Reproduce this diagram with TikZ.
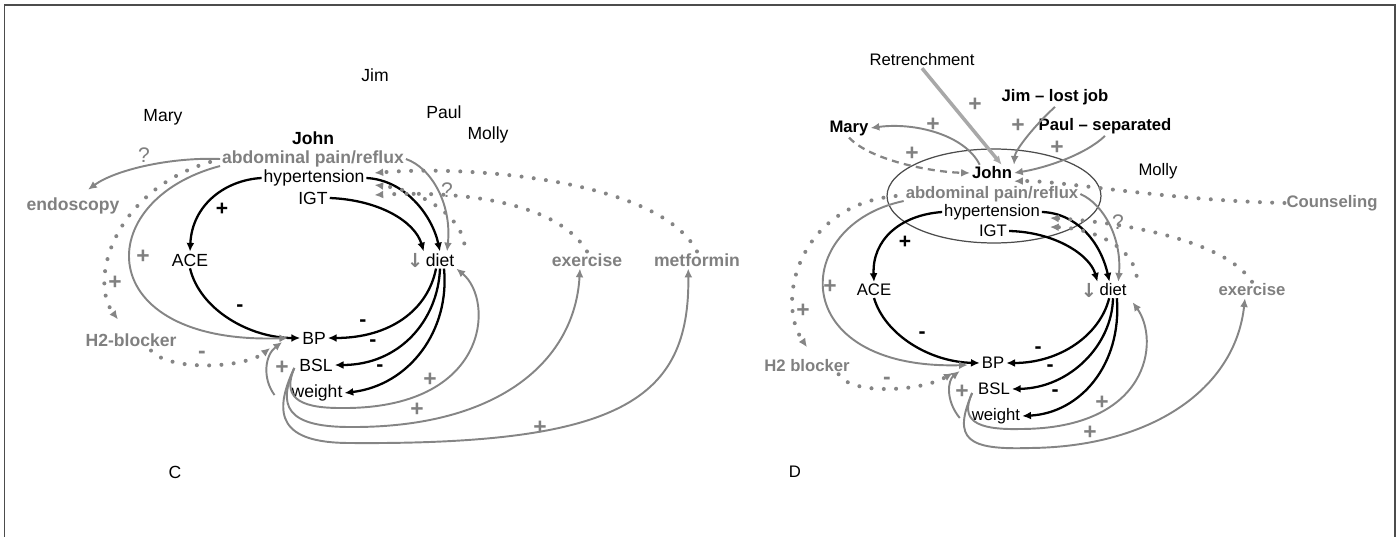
\documentclass[tikz,border=0pt]{standalone}
\usepackage{fontspec}
\setmainfont{Liberation Sans}
\newfontfamily\symfont{DejaVu Sans}
\usetikzlibrary{arrows.meta,shapes.geometric,positioning}
\definecolor{gtxt}{gray}{0.5}
\definecolor{gline}{gray}{0.52}
\definecolor{rline}{gray}{0.66}
\definecolor{frm}{gray}{0.3}
\newcommand{\fsz}{\fontsize{10}{12}\selectfont}
\tikzset{
	txt/.style   = {inner sep=1pt, font=\fsz},
	bold/.style  = {inner sep=1pt, font=\fsz\bfseries},
	gtext/.style = {inner sep=1pt, text=gtxt, font=\fsz\bfseries},
	darr/.style  = {inner sep=0pt, text=gtxt, font=\symfont\fontsize{11}{11}\selectfont\bfseries},
	sgn/.style   = {inner sep=0pt, text=gtxt, font=\fontsize{13}{13}\selectfont\bfseries},
	qsgn/.style  = {inner sep=0pt, text=gtxt, font=\fontsize{12}{12}\selectfont},
	bsgn/.style  = {inner sep=0pt, font=\fontsize{12}{12}\selectfont\bfseries},
	ring/.style  = {ellipse, draw=frm, line width=0.7pt, inner sep=0pt,
		minimum width=4.28cm, minimum height=1.88cm},
	blk/.style   = {->, line width=1.3pt, black},
	gry/.style   = {->, line width=1.1pt, gline},
	retr/.style  = {->, line width=2pt, rline},
	dsh/.style   = {->, line width=1.3pt, gline, dash pattern=on 4pt off 3pt},
	dots/.style  = {->, line width=2.3pt, gline, line cap=round,
		dash pattern=on 0pt off 7pt}
}

\begin{document}
\begin{tikzpicture}[x=0.02cm, y=-0.02cm, >={Latex[length=5pt,width=4.5pt]}]
\useasboundingbox (0,0) rectangle (1399,537);
\draw[frm, line width=0.9pt] (4.5,537) -- (4.5,5) -- (1395,5) -- (1395,537);

% panel C
\node[txt] (jimC) at (375,75) {Jim};
\node[txt] (maryC) at (163,117) {Mary};
\node[txt] (paulC) at (444,112) {Paul};
\node[txt] (mollyC) at (488,135) {Molly};
\node[bold] (johnC) at (313,138) {John};
\node[gtext] (abdC) at (313,159) {abdominal pain/reflux};
\node[txt] (hypC) at (314,178) {hypertension};
\node[txt] (igtC) at (313,198) {IGT};
\node[gtext] (endoC) at (73,206) {endoscopy};
\node[txt] (aceC) at (190,260) {ACE};
\node[txt] (dietC) at (440,260) {diet};
\node[darr, left=0pt of dietC] (downC) {↓};
\node[gtext] (exerC) at (587,260) {exercise};
\node[gtext] (metC) at (697,260) {metformin};
\node[gtext] (h2C) at (131,340) {H2-blocker};
\node[txt] (bpC) at (314,338) {BP};
\node[txt] (bslC) at (316,365) {BSL};
\node[txt] (wtC) at (317,393) {weight};
\node[txt] (labC) at (175,472) {C};

\node[qsgn] (qC1) at (144,155) {?};
\node[qsgn] (qC2) at (447,190) {?};
\node[bsgn] (pC1) at (222,209) {+};
\node[sgn] (pC2) at (143,257) {+};
\node[sgn] (pC3) at (115,283) {+};
\node[sgn] (mC1) at (202,355) {-};
\node[sgn] (pC4) at (282,368) {+};
\node[bsgn] (mC2) at (240,308) {-};
\node[bsgn] (mC3) at (363,323) {-};
\node[bsgn] (mC4) at (373,343) {-};
\node[bsgn] (mC5) at (380,368) {-};
\node[sgn] (pC5) at (430,380) {+};
\node[sgn] (pC6) at (417,410) {+};
\node[sgn] (pC7) at (540,428) {+};

\draw[blk] (hypC.west) .. controls (225,180) and (192,205) .. (aceC.north);
\draw[blk] (hypC.east) .. controls (405,180) and (432,215) .. (dietC.north);
\draw[blk] (igtC.east) .. controls (380,200) and (415,222) .. (dietC.north west);
\draw[blk] (aceC.south) .. controls (200,310) and (250,338) .. (bpC.west);
\draw[blk] (dietC.-115) .. controls (428,310) and (390,338) .. (bpC.east);
\draw[blk] (dietC.-90) .. controls (438,320) and (400,365) .. (bslC.east);
\draw[blk] (dietC.-65) .. controls (450,330) and (410,385) .. (wtC.east);

\draw[gry] (abdC.west) .. controls (170,157) and (115,170) .. ([shift={(15,-6)}]endoC.north);
\draw[gry] ([yshift=-4pt]abdC.west) .. controls (90,200) and (90,345) .. ([shift={(-12,0)}]bpC.west);
\draw[dots] ([shift={(-10,3)}]abdC.west) .. controls (115,190) and (88,280) .. ([shift={(-13,-12)}]h2C.north);
\draw[dots] ([shift={(20,2)}]h2C.south) .. controls (170,372) and (245,368) .. ([shift={(-30,10)}]bpC.west);
\draw[gry] ([shift={(-15,2)}]wtC.west) .. controls (262,378) and (265,355) .. ([shift={(-18,4)}]bpC.west);
\draw[gry] ([shift={(-3,3)}]bslC.west) .. controls (283,395) and (295,408) .. (340,408)
	.. controls (490,410) and (495,300) .. (dietC.south east);
\draw[gry] ([shift={(-3,3)}]bslC.west) .. controls (278,405) and (285,427) .. (350,427)
	.. controls (500,428) and (575,360) .. ([xshift=-4pt]exerC.south);
\draw[gry] ([shift={(-3,3)}]bslC.west) .. controls (272,415) and (280,443) .. (350,443)
	.. controls (620,445) and (690,400) .. ([xshift=-5pt]metC.south);
\draw[gry] (abdC.east) .. controls (432,168) and (452,205) .. ([xshift=4pt]dietC.north);
\draw[dots] (metC.north) .. controls (660,180) and (470,165) .. ([shift={(8,-5)}]hypC.east);
\draw[dots] (exerC.north) .. controls (560,205) and (470,190) .. ([shift={(8,17)}]hypC.east);
\draw[dots] ([shift={(8,-8)}]dietC.north east) .. controls (460,215) and (420,190) .. ([shift={(8,7)}]hypC.east);

% panel D
\begin{scope}
\renewcommand{\fsz}{\fontsize{9.5}{11}\selectfont}
\node[txt] (retrD) at (922,60) {Retrenchment};
\node[bold] (jimD) at (1055,97) {Jim – lost job};
\node[bold] (maryD) at (849,128) {Mary};
\node[bold] (paulD) at (1105,126) {Paul – separated};
\node[txt] (mollyD) at (1158,171) {Molly};
\node[ring] (ringD) at (994,196) {};
\node[bold] (johnD) at (992,173) {John};
\node[gtext] (abdD) at (992,194) {abdominal pain/reflux};
\node[txt] (hypD) at (992,212) {hypertension};
\node[txt] (igtD) at (993,231) {IGT};
\node[txt] (aceD) at (874,290) {ACE};
\node[txt] (dietD) at (1113,290) {diet};
\node[darr, left=0pt of dietD] (downD) {↓};
\node[gtext] (exerD) at (1252,290) {exercise};
\node[gtext] (counsD) at (1332,203) {Counseling};
\node[gtext] (h2D) at (807,366) {H2 blocker};
\node[txt] (bpD) at (993,363) {BP};
\node[txt] (bslD) at (994,389) {BSL};
\node[txt] (wtD) at (996,416) {weight};
\node[txt] (labD) at (795,472) {D};

\node[sgn] (pD1) at (975,105) {+};
\node[sgn] (pD2) at (1018,126) {+};
\node[sgn] (pD3) at (933,125) {+};
\node[sgn] (pD4) at (912,154) {+};
\node[sgn] (pD5) at (1057,148) {+};
\node[bsgn] (pD6) at (905,242) {+};
\node[sgn] (pD7) at (830,287) {+};
\node[sgn] (pD8) at (803,311) {+};
\node[bsgn] (mD1) at (922,335) {-};
\node[bsgn] (mD2) at (1038,350) {-};
\node[bsgn] (mD3) at (1050,368) {-};
\node[bsgn] (mD4) at (1055,393) {-};
\node[sgn] (mD5) at (887,381) {-};
\node[sgn] (pD9) at (962,392) {+};
\node[sgn] (pD10) at (1102,403) {+};
\node[sgn] (pD11) at (1090,433) {+};
\node[qsgn] (qD1) at (1118,222) {?};

\draw[retr] (retrD.south) -- ([xshift=5.5pt]johnD.north);
\draw[gry] (jimD.south) .. controls (1035,125) and (1015,150) .. (johnD.north east);
\draw[gry] ([xshift=-7pt]johnD.north) .. controls (965,135) and (915,122) .. (maryD.east);
\draw[dsh] (maryD.south) .. controls (870,160) and (930,172) .. (johnD.west);
\draw[gry] (paulD.south) .. controls (1085,155) and (1045,168) .. (johnD.east);
\draw[dots] (counsD.west) .. controls (1160,200) and (1060,180) .. (johnD.south east);

\draw[blk] (hypD.west) .. controls (900,215) and (872,240) .. (aceD.north);
\draw[blk] (hypD.east) .. controls (1075,213) and (1100,240) .. ([xshift=-2pt]dietD.north);
\draw[blk] (igtD.east) .. controls (1055,232) and (1090,255) .. (dietD.north west);
\draw[blk] (aceD.south) .. controls (885,335) and (930,362) .. (bpD.west);
\draw[blk] (dietD.-115) .. controls (1100,335) and (1060,363) .. (bpD.east);
\draw[blk] (dietD.-90) .. controls (1112,345) and (1070,388) .. (bslD.east);
\draw[blk] (dietD.-65) .. controls (1122,365) and (1080,413) .. (wtD.east);

\draw[gry] (abdD.east) .. controls (1105,205) and (1122,240) .. ([xshift=3pt]dietD.north);
\draw[gry] ([yshift=-4pt]abdD.west) .. controls (790,225) and (785,370) .. ([shift={(-12,2)}]bpD.west);
\draw[dots] ([shift={(-8,2)}]abdD.west) .. controls (800,205) and (775,300) .. ([yshift=6pt]h2D.north);
\draw[dots] ([xshift=18pt]h2D.south) .. controls (850,395) and (920,392) .. ([shift={(-27,10)}]bpD.west);
\draw[gry] ([shift={(-10,2)}]wtD.west) .. controls (945,400) and (948,380) .. ([shift={(-20,8)}]bpD.west);
\draw[gry] ([shift={(-4,4)}]bslD.west) .. controls (960,420) and (975,430) .. (1020,429)
	.. controls (1150,429) and (1160,340) .. ([shift={(4,4)}]dietD.south east);
\draw[gry] ([shift={(-4,4)}]bslD.west) .. controls (952,440) and (968,450) .. (1030,448)
	.. controls (1150,447) and (1235,390) .. ([xshift=-4pt]exerD.south);
\draw[dots] (exerD.north) .. controls (1225,240) and (1120,222) .. ([shift={(8,6)}]hypD.east);
\draw[dots] ([shift={(8,-6)}]dietD.north east) .. controls (1132,245) and (1090,228) .. ([shift={(8,15)}]hypD.east);
\end{scope}
\end{tikzpicture}
\end{document}
